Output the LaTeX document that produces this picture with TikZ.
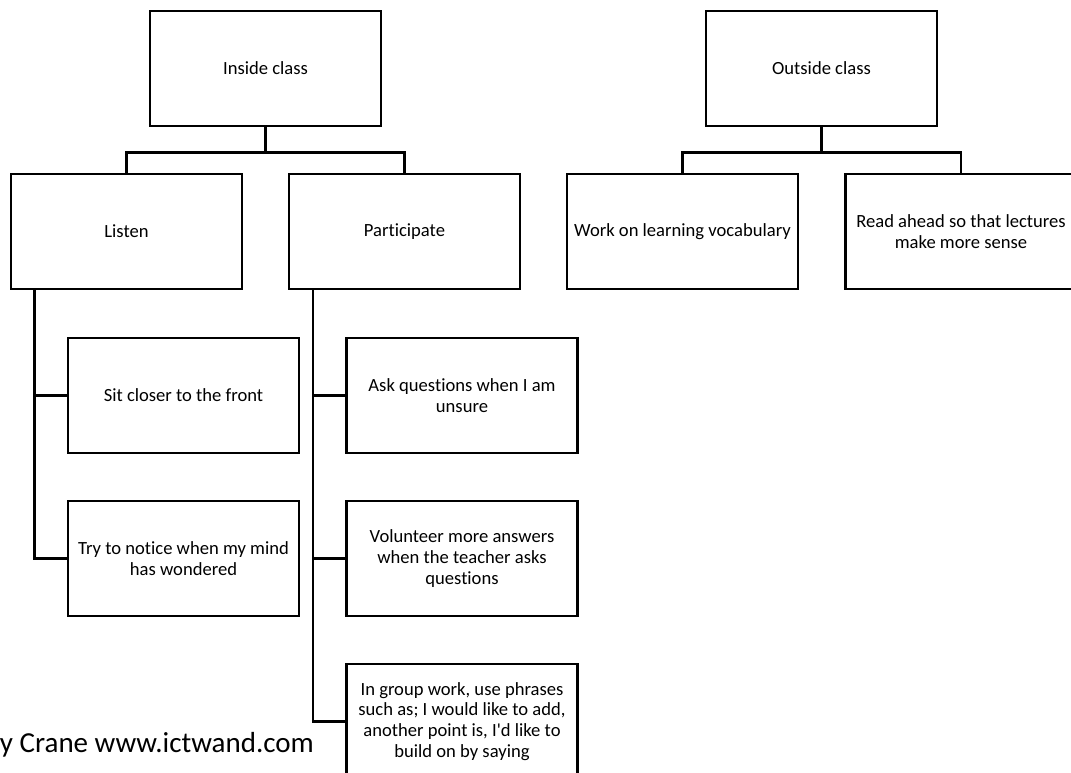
\documentclass[tikz,border=0pt]{standalone}
\usepackage{fontspec}
\setmainfont{Carlito}[Ligatures={TeXOff,NoCommon}]
\begin{document}
\begin{tikzpicture}[x=1pt,y=-1pt,
  box/.style={draw=black, line width=2.6pt, minimum width=231pt, minimum height=115pt,
    inner sep=2pt, align=center, font=\fontsize{18.6}{20.8}\selectfont, text=black},
  link/.style={draw=black, line width=2.6pt}]
\useasboundingbox (0,0) rectangle (1071,772);
\clip (0,0) rectangle (1071,772);
% top-level boxes
\node[box] (inside)  at (265.5,68.5) {Inside class};
\node[box] (outside) at (821.5,68.5) {Outside class};
% second level
\node[box] (listen) at (126.5,231.5) {Listen};
\node[box] (part)   at (404.5,231.5) {Participate};
\node[box] (vocab)  at (682.5,231.5) {Work on learning vocabulary};
\node[box] (read)   at (961,231.5) {Read ahead so that lectures\\make more sense};
% third level
\node[box] (sit)   at (183.5,395.5) {Sit closer to the front};
\node[box] (try)   at (183.5,558.5) {Try to notice when my mind\\has wondered};
\node[box] (ask)   at (462,395.5) {Ask questions when I am\\unsure};
\node[box] (vol)   at (462,558.5) {Volunteer more answers\\when the teacher asks\\questions};
\node[box] (group) at (462,721.5) {In group work, use phrases\\such as; I would like to add,\\another point is, I'd like to\\build on by saying};
% footer
\node[anchor=base east, inner sep=0pt, font=\fontsize{29}{32}\selectfont] (foot) at (314,752) {y Crane www.ictwand.com};
% connectors
\draw[link] (inside.south) -- ++(0,25) -| (listen.north);
\draw[link] (inside.south) -- ++(0,25) -| (part.north);
\draw[link] (outside.south) -- ++(0,25) -| (vocab.north);
\draw[link] (outside.south) -- ++(0,25) -| (read.north);
\coordinate (lb) at ([xshift=-92pt]listen.south);
\coordinate (pb) at ([xshift=-91.5pt]part.south);
\draw[link] (lb) |- (sit.west);
\draw[link] (lb) |- (try.west);
\draw[link] (pb) |- (ask.west);
\draw[link] (pb) |- (vol.west);
\draw[link] (pb) |- (group.west);
\end{tikzpicture}
\end{document}
